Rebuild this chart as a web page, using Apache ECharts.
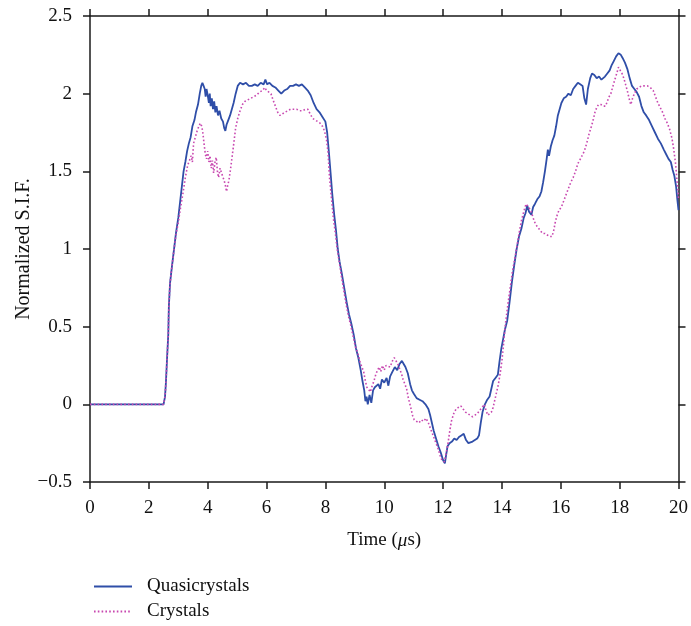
<!DOCTYPE html>
<html>
<head>
<meta charset="utf-8">
<script src="https://cdn.jsdelivr.net/npm/echarts@6/dist/echarts.min.js"></script>
<style>
  html, body { margin: 0; padding: 0; background: #fff; }
  #chart { width: 691px; height: 626px; }
</style>
</head>
<body>
<div id="chart"></div>
<script>
// x ticks / y ticks
const xTicks = [0, 2, 4, 6, 8, 10, 12, 14, 16, 18, 20];
const yTicks = [-0.5, 0, 0.5, 1, 1.5, 2, 2.5];

// Quasicrystals
const quasiTime = [
  0, 2.5, 2.55, 2.58, 2.62, 2.66, 2.68, 2.72, 2.78, 2.85, 2.92, 3.0, 3.06, 3.12, 3.18, 3.24, 3.3, 3.36, 3.42, 3.48,
  3.55, 3.6, 3.67, 3.73, 3.78, 3.82, 3.86, 3.9, 3.93, 3.96, 4.0, 4.04, 4.07, 4.1, 4.14, 4.18, 4.22, 4.26, 4.3, 4.35,
  4.4, 4.46, 4.52, 4.56, 4.6, 4.64, 4.7, 4.76, 4.82, 4.88, 4.95, 5.02, 5.1, 5.2, 5.3, 5.4, 5.5, 5.6, 5.7, 5.8,
  5.9, 5.96, 6.02, 6.1, 6.2, 6.3, 6.4, 6.5, 6.6, 6.7, 6.8, 6.9, 7.0, 7.1, 7.2, 7.3, 7.4, 7.5, 7.6, 7.7,
  7.8, 7.9, 8.0, 8.06, 8.12, 8.18, 8.23, 8.3, 8.36, 8.42, 8.48, 8.56, 8.64, 8.72, 8.8, 8.88, 8.96, 9.04, 9.12, 9.2,
  9.26, 9.32, 9.36, 9.4, 9.44, 9.5, 9.56, 9.62, 9.68, 9.74, 9.8, 9.86, 9.92, 10.0, 10.08, 10.14, 10.2, 10.28, 10.36, 10.44,
  10.52, 10.6, 10.66, 10.72, 10.8, 10.88, 10.94, 11.0, 11.1, 11.2, 11.3, 11.4, 11.5, 11.56, 11.62, 11.68, 11.76, 11.84, 11.92, 12.0,
  12.06, 12.1, 12.15, 12.22, 12.3, 12.38, 12.46, 12.54, 12.62, 12.7, 12.78, 12.86, 12.92, 13.0, 13.08, 13.16, 13.22, 13.28, 13.34, 13.42,
  13.5, 13.58, 13.64, 13.7, 13.78, 13.86, 13.92, 13.98, 14.04, 14.1, 14.18, 14.26, 14.34, 14.42, 14.5, 14.58, 14.66, 14.74, 14.8, 14.86,
  14.92, 15.0, 15.06, 15.12, 15.2, 15.28, 15.34, 15.4, 15.46, 15.52, 15.56, 15.6, 15.66, 15.72, 15.78, 15.84, 15.9, 15.96, 16.02, 16.1,
  16.18, 16.26, 16.34, 16.42, 16.5, 16.58, 16.66, 16.74, 16.8, 16.86, 16.92, 17.0, 17.06, 17.14, 17.22, 17.3, 17.38, 17.44, 17.5, 17.58,
  17.66, 17.72, 17.8, 17.88, 17.96, 18.04, 18.1, 18.18, 18.26, 18.34, 18.42, 18.5, 18.58, 18.66, 18.74, 18.82, 18.9, 19.0, 19.1, 19.2,
  19.3, 19.4, 19.5, 19.58, 19.66, 19.74, 19.8, 19.86, 19.92, 19.96, 20.0
];
const quasiValue = [
  0, 0, 0.05, 0.14, 0.3, 0.45, 0.63, 0.78, 0.88, 0.99, 1.1, 1.2, 1.3, 1.4, 1.5, 1.56, 1.63, 1.68, 1.72, 1.79,
  1.83, 1.88, 1.93, 2.0, 2.05, 2.07, 2.05, 2.03, 1.98, 2.03, 1.99, 1.94, 2.0, 1.92, 1.97, 1.9, 1.95, 1.88, 1.92, 1.86,
  1.89, 1.84, 1.82, 1.78, 1.76, 1.8, 1.83, 1.86, 1.9, 1.94, 2.0, 2.05, 2.07, 2.06, 2.07, 2.05, 2.05, 2.06, 2.05, 2.07,
  2.06, 2.09, 2.06, 2.07, 2.05, 2.04, 2.02, 2.0, 2.02, 2.03, 2.05, 2.05, 2.06, 2.05, 2.06, 2.04, 2.02, 1.99, 1.94, 1.9,
  1.88, 1.85, 1.82, 1.75, 1.62, 1.48, 1.36, 1.22, 1.12, 1.0, 0.92, 0.84, 0.75, 0.66, 0.58, 0.52, 0.45, 0.36, 0.3, 0.22,
  0.15, 0.09, 0.02, 0.05, 0.0, 0.06, 0.01, 0.09, 0.11, 0.1, 0.13, 0.1, 0.16, 0.14, 0.17, 0.12, 0.18, 0.21, 0.24, 0.22,
  0.26, 0.28, 0.26, 0.24, 0.2, 0.13, 0.09, 0.07, 0.04, 0.03, 0.02, 0.0, -0.03, -0.07, -0.12, -0.17, -0.22, -0.27, -0.31, -0.36,
  -0.38, -0.33, -0.27, -0.25, -0.24, -0.22, -0.23, -0.21, -0.2, -0.19, -0.23, -0.25, -0.26, -0.24, -0.23, -0.22, -0.2, -0.12, -0.05, 0.0,
  0.03, 0.05, 0.1, 0.15, 0.17, 0.19, 0.28, 0.36, 0.42, 0.48, 0.54, 0.66, 0.79, 0.9, 1.0, 1.08, 1.13, 1.2, 1.23, 1.28,
  1.24, 1.22, 1.27, 1.29, 1.32, 1.34, 1.37, 1.43, 1.5, 1.58, 1.64, 1.6, 1.66, 1.7, 1.73, 1.79, 1.86, 1.9, 1.94, 1.97,
  1.98, 2.0, 1.99, 2.03, 2.05, 2.07, 2.06, 2.05, 1.97, 1.93, 2.03, 2.1, 2.13, 2.12, 2.1, 2.11, 2.09, 2.08, 2.11, 2.13,
  2.15, 2.18, 2.21, 2.24, 2.26, 2.25, 2.23, 2.2, 2.16, 2.1, 2.05, 2.03, 2.01, 1.98, 1.92, 1.88, 1.86, 1.83, 1.79, 1.75,
  1.71, 1.68, 1.64, 1.61, 1.58, 1.56, 1.51, 1.47, 1.4, 1.32, 1.25
];

// Crystals
const crystalTime = [
  0, 2.5, 2.55, 2.58, 2.62, 2.66, 2.68, 2.72, 2.78, 2.85, 2.92, 3.0, 3.08, 3.16, 3.24, 3.32, 3.38, 3.44, 3.48, 3.52,
  3.58, 3.64, 3.7, 3.75, 3.8, 3.84, 3.88, 3.92, 3.96, 4.0, 4.04, 4.08, 4.12, 4.16, 4.2, 4.25, 4.29, 4.33, 4.37, 4.42,
  4.47, 4.52, 4.56, 4.6, 4.64, 4.68, 4.72, 4.78, 4.84, 4.9, 4.95, 5.02, 5.1, 5.18, 5.26, 5.36, 5.46, 5.56, 5.66, 5.76,
  5.86, 5.94, 6.0, 6.08, 6.15, 6.22, 6.3, 6.38, 6.46, 6.54, 6.62, 6.72, 6.82, 6.92, 7.02, 7.12, 7.22, 7.32, 7.4, 7.48,
  7.57, 7.66, 7.74, 7.82, 7.9, 7.97, 8.04, 8.09, 8.14, 8.2, 8.27, 8.34, 8.4, 8.46, 8.54, 8.62, 8.7, 8.78, 8.86, 8.94,
  9.02, 9.1, 9.18, 9.26, 9.3, 9.36, 9.41, 9.47, 9.53, 9.59, 9.65, 9.71, 9.77, 9.83, 9.88, 9.94, 10.0, 10.06, 10.12, 10.2,
  10.28, 10.34, 10.4, 10.46, 10.52, 10.58, 10.64, 10.7, 10.76, 10.82, 10.9, 10.96, 11.02, 11.1, 11.18, 11.26, 11.34, 11.42, 11.5, 11.58,
  11.66, 11.74, 11.82, 11.9, 11.96, 12.04, 12.1, 12.16, 12.22, 12.28, 12.36, 12.44, 12.52, 12.6, 12.68, 12.76, 12.84, 12.92, 13.0, 13.08,
  13.16, 13.24, 13.32, 13.4, 13.46, 13.52, 13.58, 13.64, 13.7, 13.76, 13.82, 13.88, 13.94, 14.0, 14.06, 14.12, 14.2, 14.28, 14.36, 14.44,
  14.52, 14.6, 14.66, 14.74, 14.82, 14.9, 14.98, 15.06, 15.14, 15.22, 15.3, 15.38, 15.46, 15.54, 15.62, 15.7, 15.76, 15.82, 15.88, 15.94,
  16.02, 16.1, 16.18, 16.26, 16.34, 16.42, 16.5, 16.58, 16.64, 16.72, 16.8, 16.88, 16.96, 17.04, 17.1, 17.16, 17.22, 17.28, 17.36, 17.44,
  17.52, 17.58, 17.64, 17.7, 17.76, 17.82, 17.9, 17.96, 18.02, 18.08, 18.14, 18.2, 18.26, 18.32, 18.38, 18.44, 18.5, 18.58, 18.66, 18.74,
  18.84, 18.94, 19.04, 19.14, 19.22, 19.3, 19.38, 19.46, 19.54, 19.62, 19.7, 19.78, 19.84, 19.9, 19.94, 19.98, 20.0
];
const crystalValue = [
  0, 0, 0.05, 0.14, 0.3, 0.45, 0.63, 0.78, 0.88, 0.99, 1.09, 1.17, 1.27, 1.36, 1.46, 1.54, 1.57, 1.6, 1.56, 1.68,
  1.72, 1.76, 1.79, 1.81, 1.79, 1.74, 1.67, 1.61, 1.58, 1.63, 1.56, 1.6, 1.52, 1.57, 1.49, 1.56, 1.59, 1.5, 1.46, 1.52,
  1.49, 1.5, 1.44, 1.41, 1.37, 1.41, 1.44, 1.52, 1.61, 1.7, 1.78, 1.84, 1.89, 1.93, 1.95, 1.96, 1.97, 1.98, 1.99, 2.01,
  2.02, 2.04, 2.02, 2.01, 2.0, 1.96, 1.92, 1.88, 1.86, 1.87, 1.88, 1.89, 1.9, 1.9, 1.9, 1.89, 1.89, 1.9, 1.9, 1.87,
  1.84, 1.83, 1.82, 1.81, 1.79, 1.76, 1.7, 1.62, 1.46, 1.34, 1.2, 1.1, 1.0, 0.93, 0.83, 0.74, 0.65, 0.57, 0.51, 0.44,
  0.37, 0.33, 0.27, 0.23, 0.21, 0.15, 0.11, 0.1, 0.08, 0.12, 0.15, 0.19, 0.22, 0.24, 0.21, 0.25, 0.22, 0.25, 0.26, 0.24,
  0.28, 0.3, 0.29, 0.26, 0.23, 0.2, 0.16, 0.13, 0.1, 0.04, -0.02, -0.07, -0.1, -0.11, -0.12, -0.1, -0.11, -0.09, -0.12, -0.16,
  -0.2, -0.24, -0.28, -0.33, -0.36, -0.37, -0.32, -0.26, -0.18, -0.11, -0.06, -0.03, -0.02, -0.01, -0.03, -0.05, -0.06, -0.07, -0.08, -0.07,
  -0.06, -0.04, -0.02, 0.0, -0.04, -0.07, -0.08, -0.05, -0.02, 0.03, 0.08, 0.13, 0.2, 0.28, 0.4, 0.52, 0.64, 0.75, 0.86, 0.94,
  1.03, 1.12, 1.18, 1.24, 1.29, 1.27, 1.25, 1.2, 1.16, 1.14, 1.12, 1.1, 1.1, 1.09, 1.08, 1.08, 1.12, 1.18, 1.22, 1.25,
  1.27, 1.31, 1.35, 1.39, 1.43, 1.46, 1.5, 1.55, 1.57, 1.6, 1.63, 1.68, 1.74, 1.79, 1.83, 1.88, 1.91, 1.93, 1.93, 1.92,
  1.92, 1.95, 1.98, 2.0, 2.04, 2.08, 2.13, 2.17, 2.15, 2.13, 2.1, 2.06, 2.02, 1.97, 1.93, 1.97, 2.0, 2.03, 2.04, 2.05,
  2.05, 2.05, 2.04, 2.02, 1.98, 1.94, 1.91, 1.88, 1.84, 1.81, 1.77, 1.71, 1.64, 1.55, 1.46, 1.38, 1.32
];

const FONT = 'Liberation Serif';
const BLUE = '#2f4ea8';
const PINK = '#c848b0';
const quasiData = quasiTime.map((t, i) => [t, quasiValue[i]]);
const crystalData = crystalTime.map((t, i) => [t, crystalValue[i]]);

const chart = echarts.init(document.getElementById('chart'));

// 坐标轴公共样式
const axisLine = { show: true, onZero: false, lineStyle: { color: '#1a1a1a', width: 1.5 } };
const axisTick = { show: true, inside: false, length: 7, lineStyle: { color: '#1a1a1a', width: 1.5 } };
const fmt = v => String(v).replace('-', '\u2212');

// 图例：每行一个 legend，只画线不画点
function legendRow(name, top) {
  return {
    left: 88,
    top: top,
    itemWidth: 38,
    itemHeight: 14,
    data: [name],
    itemStyle: { opacity: 0 },
    textStyle: { fontFamily: FONT, fontSize: 19, color: '#111', padding: [0, 0, 0, 10] }
  };
}

chart.setOption({
  animation: false,
  backgroundColor: '#fff',
  grid: { left: 90, right: 10, top: 16, bottom: 144 },
  legend: [legendRow('Quasicrystals', 572), legendRow('Crystals', 597)],
  xAxis: [
    {
      type: 'value', min: xTicks[0], max: xTicks[xTicks.length - 1], interval: 2,
      position: 'bottom',
      name: '{n|Time (}{m|μ}{n|s)}',
      nameLocation: 'middle', nameGap: 49,
      nameTextStyle: {
        rich: {
          n: { fontFamily: FONT, fontSize: 19, color: '#111' },
          m: { fontFamily: FONT, fontSize: 19, color: '#111', fontStyle: 'italic' }
        }
      },
      axisLine, axisTick,
      axisLabel: { fontFamily: FONT, fontSize: 19, color: '#111', margin: 17, formatter: fmt },
      splitLine: { show: false }
    },
    {
      type: 'value', min: xTicks[0], max: xTicks[xTicks.length - 1], interval: 2,
      position: 'top',
      axisLine, axisTick,
      axisLabel: { show: false },
      splitLine: { show: false }
    }
  ],
  yAxis: [
    {
      type: 'value', min: yTicks[0], max: yTicks[yTicks.length - 1], interval: 0.5,
      position: 'left',
      name: 'Normalized S.I.F.',
      nameLocation: 'middle', nameGap: 56,
      nameMoveOverlap: false,
      nameTextStyle: { fontFamily: FONT, fontSize: 20, color: '#111' },
      axisLine, axisTick,
      axisLabel: { fontFamily: FONT, fontSize: 19, color: '#111', margin: 18, formatter: fmt },
      splitLine: { show: false }
    },
    {
      type: 'value', min: yTicks[0], max: yTicks[yTicks.length - 1], interval: 0.5,
      position: 'right',
      axisLine, axisTick,
      axisLabel: { show: false },
      splitLine: { show: false }
    }
  ],
  series: [
    {
      name: 'Quasicrystals', type: 'line', data: quasiData,
      showSymbol: false, symbol: 'none',
      color: BLUE,
      lineStyle: { color: BLUE, width: 1.8 },
      z: 3
    },
    {
      name: 'Crystals', type: 'line', data: crystalData,
      showSymbol: false, symbol: 'none',
      color: PINK,
      lineStyle: { color: PINK, width: 1.6, type: [1.6, 2.2] },
      z: 4
    }
  ]
});
</script>
</body>
</html>
